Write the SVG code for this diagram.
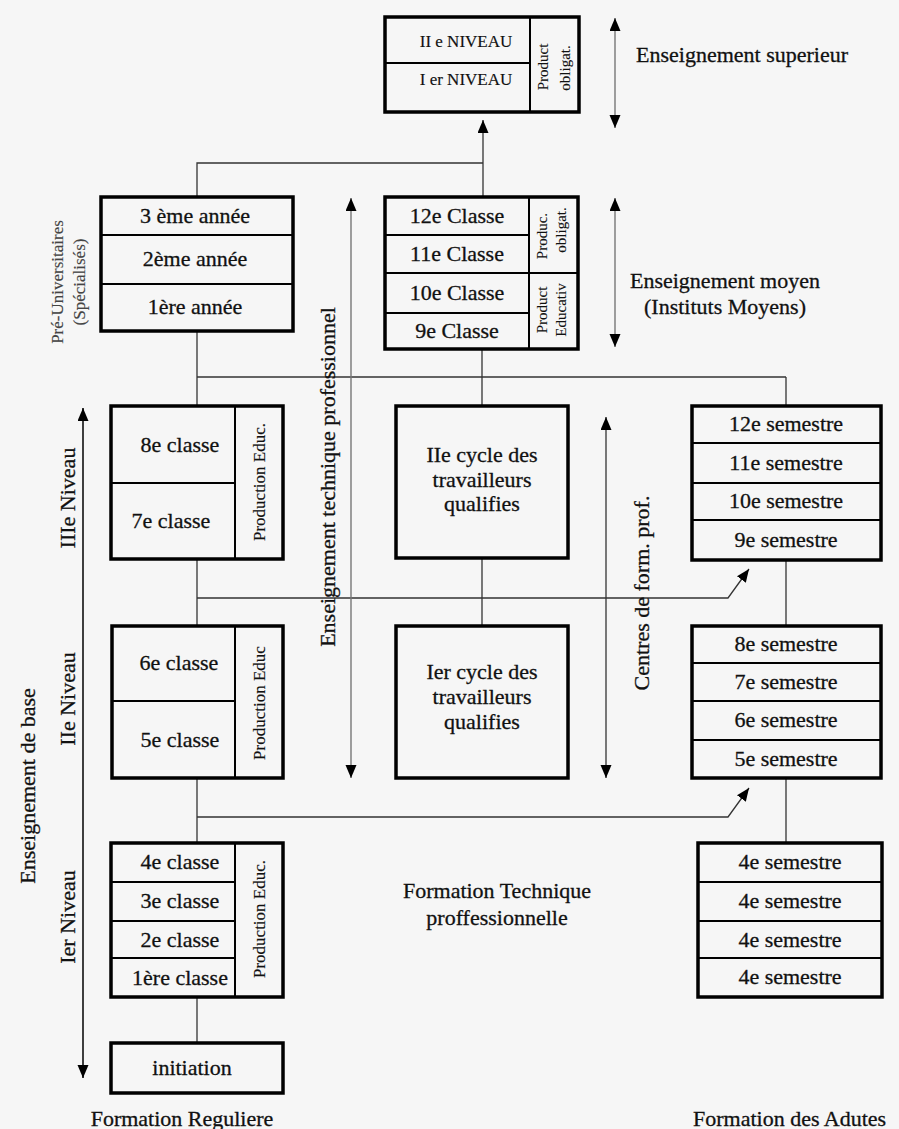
<svg xmlns="http://www.w3.org/2000/svg" width="899" height="1129" viewBox="0 0 899 1129">
<defs>
<marker id="ah" markerUnits="userSpaceOnUse" markerWidth="14" markerHeight="12" refX="13" refY="5.5" orient="auto-start-reverse"><path d="M0,0 L13,5.5 L0,11 z" fill="#000"/></marker>
<style>
.box{fill:none;stroke:#000;stroke-width:3.5}
.dv{stroke:#000;stroke-width:2;fill:none}
.t{font-family:"Liberation Serif","Times New Roman",serif;font-size:22px;fill:#111;stroke:#111;stroke-width:0.3;text-anchor:middle}
.st{text-anchor:start}
.s{font-size:17px;stroke-width:0.15}
.p{font-size:15px;stroke-width:0.1}
.g{fill:#444;stroke:#444}
.con{stroke:#333;stroke-width:1.3;fill:none}
.ax{stroke:#777;stroke-width:1.4;fill:none}
.axd{stroke:#111;stroke-width:1.6;fill:none}
</style>
</defs>
<rect width="899" height="1129" fill="#f6f6f6"/>

<g id="connectors">
<polyline class="con" points="197,197 197,163 483,163"/>
<line class="con" x1="483" y1="197" x2="483" y2="120" marker-end="url(#ah)"/>
<line class="con" x1="197" y1="331" x2="197" y2="406"/>
<line class="con" x1="197" y1="377" x2="786" y2="377"/>
<line class="con" x1="482" y1="349" x2="482" y2="406"/>
<line class="con" x1="786" y1="377" x2="786" y2="406"/>
<line class="con" x1="482" y1="558" x2="482" y2="626"/>
<line class="con" x1="197" y1="559" x2="197" y2="626"/>
<polyline class="con" points="197,598 728,598 749,569" marker-end="url(#ah)"/>
<line class="con" x1="786" y1="560" x2="786" y2="626"/>
<line class="con" x1="197" y1="778" x2="197" y2="843"/>
<polyline class="con" points="197,817 728,817 749,788" marker-end="url(#ah)"/>
<line class="con" x1="786" y1="778" x2="786" y2="843"/>
<line class="con" x1="197" y1="997" x2="197" y2="1043"/>
<line class="ax" x1="615" y1="18" x2="615" y2="128" marker-start="url(#ah)" marker-end="url(#ah)"/>
<line class="ax" x1="615" y1="198" x2="615" y2="347" marker-start="url(#ah)" marker-end="url(#ah)"/>
<line class="ax" x1="351" y1="198" x2="351" y2="778" marker-start="url(#ah)" marker-end="url(#ah)"/>
<line class="con" x1="606" y1="417" x2="606" y2="778" marker-start="url(#ah)" marker-end="url(#ah)"/>
<line class="axd" x1="83" y1="408" x2="83" y2="1078" marker-start="url(#ah)" marker-end="url(#ah)"/>
</g>

<g id="sup">
<rect class="box" x="385" y="17" width="194" height="95"/>
<line class="dv" x1="530" y1="17" x2="530" y2="112"/>
<line class="dv" x1="385" y1="63" x2="530" y2="63"/>
<text class="t s" x="466" y="47">II e NIVEAU</text>
<text class="t s" x="466" y="85">I er NIVEAU</text>
<text class="t p" transform="translate(543 67) rotate(-90)" dy="0.35em">Product</text>
<text class="t p" transform="translate(565 68) rotate(-90)" dy="0.35em">obligat.</text>
</g>

<g id="preuniv">
<rect class="box" x="101" y="197" width="192" height="134"/>
<line class="dv" x1="101" y1="235" x2="293" y2="235"/>
<line class="dv" x1="101" y1="284" x2="293" y2="284"/>
<text class="t" x="195" y="223">3 ème année</text>
<text class="t" x="195" y="266">2ème année</text>
<text class="t" x="195" y="314">1ère année</text>
</g>

<g id="moyen">
<rect class="box" x="385" y="197" width="193" height="152"/>
<line class="dv" x1="529" y1="197" x2="529" y2="349"/>
<line class="dv" x1="385" y1="235" x2="529" y2="235"/>
<line class="dv" x1="385" y1="273" x2="578" y2="273"/>
<line class="dv" x1="385" y1="313" x2="529" y2="313"/>
<text class="t" x="457" y="223">12e Classe</text>
<text class="t" x="457" y="261">11e Classe</text>
<text class="t" x="457" y="300">10e Classe</text>
<text class="t" x="457" y="338">9e Classe</text>
<text class="t p" transform="translate(542 236) rotate(-90)" dy="0.35em">Produc.</text>
<text class="t p" transform="translate(561 230) rotate(-90)" dy="0.35em">obligat.</text>
<text class="t p" transform="translate(542 310) rotate(-90)" dy="0.35em">Product</text>
<text class="t p" transform="translate(561 310) rotate(-90)" dy="0.35em">Educativ</text>
</g>

<g id="base3">
<rect class="box" x="111" y="406" width="172" height="153"/>
<line class="dv" x1="235" y1="406" x2="235" y2="559"/>
<line class="dv" x1="111" y1="483" x2="235" y2="483"/>
<text class="t" x="180" y="452">8e classe</text>
<text class="t" x="171" y="528">7e classe</text>
<text class="t s" transform="translate(259 482) rotate(-90)" dy="0.35em">Production Educ.</text>
</g>

<g id="base2">
<rect class="box" x="112" y="626" width="171" height="152"/>
<line class="dv" x1="235" y1="626" x2="235" y2="778"/>
<line class="dv" x1="112" y1="701" x2="235" y2="701"/>
<text class="t" x="179" y="670">6e classe</text>
<text class="t" x="180" y="747">5e classe</text>
<text class="t s" transform="translate(259 703) rotate(-90)" dy="0.35em">Production Educ</text>
</g>

<g id="base1">
<rect class="box" x="111" y="843" width="172" height="154"/>
<line class="dv" x1="235" y1="843" x2="235" y2="997"/>
<line class="dv" x1="111" y1="882" x2="235" y2="882"/>
<line class="dv" x1="111" y1="921" x2="235" y2="921"/>
<line class="dv" x1="111" y1="958" x2="235" y2="958"/>
<text class="t" x="180" y="869">4e classe</text>
<text class="t" x="180" y="908">3e classe</text>
<text class="t" x="180" y="947">2e classe</text>
<text class="t" x="180" y="985">1ère classe</text>
<text class="t s" transform="translate(259 919) rotate(-90)" dy="0.35em">Production Educ.</text>
</g>

<g id="initiation">
<rect class="box" x="111" y="1043" width="172" height="50"/>
<text class="t" x="192" y="1075">initiation</text>
</g>

<g id="cycle2">
<rect class="box" x="396" y="406" width="172" height="152"/>
<text class="t" x="482" y="462">IIe cycle des</text>
<text class="t" x="482" y="487">travailleurs</text>
<text class="t" x="482" y="511">qualifies</text>
</g>

<g id="cycle1">
<rect class="box" x="396" y="626" width="172" height="152"/>
<text class="t" x="482" y="679">Ier cycle des</text>
<text class="t" x="482" y="704">travailleurs</text>
<text class="t" x="482" y="729">qualifies</text>
</g>

<g id="sem9_12">
<rect class="box" x="692" y="406" width="189" height="154"/>
<line class="dv" x1="692" y1="443" x2="881" y2="443"/>
<line class="dv" x1="692" y1="483" x2="881" y2="483"/>
<line class="dv" x1="692" y1="520" x2="881" y2="520"/>
<text class="t" x="786" y="431">12e semestre</text>
<text class="t" x="786" y="470">11e semestre</text>
<text class="t" x="786" y="508">10e semestre</text>
<text class="t" x="786" y="547">9e semestre</text>
</g>

<g id="sem5_8">
<rect class="box" x="692" y="626" width="189" height="152"/>
<line class="dv" x1="692" y1="663" x2="881" y2="663"/>
<line class="dv" x1="692" y1="701" x2="881" y2="701"/>
<line class="dv" x1="692" y1="740" x2="881" y2="740"/>
<text class="t" x="786" y="651">8e semestre</text>
<text class="t" x="786" y="689">7e semestre</text>
<text class="t" x="786" y="727">6e semestre</text>
<text class="t" x="786" y="766">5e semestre</text>
</g>

<g id="sem1_4">
<rect class="box" x="698" y="843" width="184" height="154"/>
<line class="dv" x1="698" y1="882" x2="882" y2="882"/>
<line class="dv" x1="698" y1="921" x2="882" y2="921"/>
<line class="dv" x1="698" y1="958" x2="882" y2="958"/>
<text class="t" x="790" y="869">4e semestre</text>
<text class="t" x="790" y="908">4e semestre</text>
<text class="t" x="790" y="947">4e semestre</text>
<text class="t" x="790" y="984">4e semestre</text>
</g>

<g id="labels">
<text class="t st" x="636" y="62">Enseignement superieur</text>
<text class="t" x="725" y="288">Enseignement moyen</text>
<text class="t" x="725" y="314">(Instituts Moyens)</text>
<text class="t s g" transform="translate(57 282) rotate(-90)" dy="0.35em">Pré-Universitaires</text>
<text class="t s g" transform="translate(79 282) rotate(-90)" dy="0.35em">(Spécialisés)</text>
<text class="t" transform="translate(67 498) rotate(-90)" dy="0.35em">IIIe Niveau</text>
<text class="t" transform="translate(67 699) rotate(-90)" dy="0.35em">IIe Niveau</text>
<text class="t" transform="translate(67 917) rotate(-90)" dy="0.35em">Ier Niveau</text>
<text class="t" transform="translate(27 786) rotate(-90)" dy="0.35em">Enseignement de base</text>
<text class="t" transform="translate(327 477) rotate(-90)" dy="0.35em">Enseignement technique professionnel</text>
<text class="t" transform="translate(641 593) rotate(-90)" dy="0.35em">Centres de form. prof.</text>
<text class="t" x="497" y="898">Formation Technique</text>
<text class="t" x="497" y="925">proffessionnelle</text>
<text class="t" x="182" y="1126">Formation Reguliere</text>
<text class="t st" x="693" y="1126">Formation des Adutes</text>
</g>
</svg>
